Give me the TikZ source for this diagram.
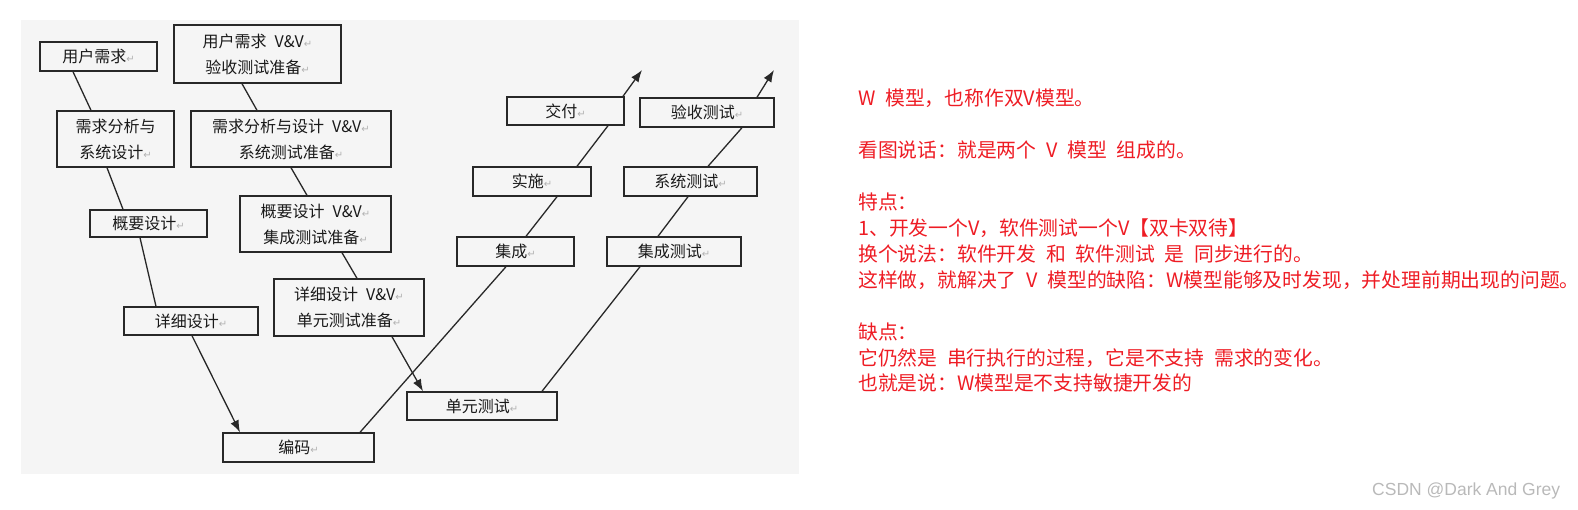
\documentclass[tikz,border=0pt]{standalone}
\usepackage{fontspec}
\setmainfont{Noto Sans CJK SC}[WordSpace=2.2]
\newfontfamily\symfont{DejaVu Sans}
\newfontfamily\wmfont{Liberation Sans}
\usepackage{tikz}
\usetikzlibrary{arrows.meta}
\definecolor{panelgray}{RGB}{245,245,245}
\definecolor{linegray}{RGB}{40,40,40}
\definecolor{notered}{RGB}{238,28,36}
% 段落标记
\newcommand{\retmark}{{\symfont\color{gray!60}\fontsize{10}{10}\selectfont ↵}}
\tikzset{
    % 阶段方框
    stagebox/.style={
        draw=linegray,
        line width=1.4pt,
        fill=panelgray,
        inner sep=0pt,
        align=center,
        text=black!90,
        font=\fontsize{16}{26}\selectfont
    },
    % 连线与箭头
    vline/.style={
        line width=1.3pt,
        linegray
    },
    varrow/.style={
        vline,
        -{Latex[length=12pt, width=9pt]}
    },
    % 右侧红字
    notetext/.style={
        anchor=west,
        inner sep=0pt,
        notered,
        font=\fontsize{19.8}{20}\selectfont
    }
}

\begin{document}
\begin{tikzpicture}[x=1pt, y=-1pt]
    \useasboundingbox (0,0) rectangle (1578,509);
    % ===================== 左侧 W 模型图 =====================
    \fill[panelgray] (21,20) rectangle (799,474);

    % 开发过程
    \node[stagebox, minimum width=117pt, minimum height=29pt] (ur) at (98.5,56.5) {用户需求\retmark};
    \node[stagebox, minimum width=117pt, minimum height=56pt] (xq) at (115.5,139) {需求分析与\\系统设计\retmark};
    \node[stagebox, minimum width=117pt, minimum height=27pt] (gy) at (148.5,223.5) {概要设计\retmark};
    \node[stagebox, minimum width=134pt, minimum height=28pt] (xx) at (191,321) {详细设计\retmark};
    \node[stagebox, minimum width=151pt, minimum height=29pt] (bm) at (298.5,447.5) {编码\retmark};
    \node[stagebox, minimum width=117pt, minimum height=29pt] (jc) at (515.5,251.5) {集成\retmark};
    \node[stagebox, minimum width=118pt, minimum height=29pt] (ss) at (532,181.5) {实施\retmark};
    \node[stagebox, minimum width=117pt, minimum height=28pt] (jf) at (565.5,111) {交付\retmark};

    % 测试过程
    \node[stagebox, minimum width=167pt, minimum height=58pt] (urvv) at (257.5,54) {用户需求 V\&V\retmark\\验收测试准备\retmark};
    \node[stagebox, minimum width=200pt, minimum height=56pt] (xqvv) at (291,139) {需求分析与设计 V\&V\retmark\\系统测试准备\retmark};
    \node[stagebox, minimum width=151pt, minimum height=56pt] (gyvv) at (315.5,224) {概要设计 V\&V\retmark\\集成测试准备\retmark};
    \node[stagebox, minimum width=150pt, minimum height=57pt] (xxvv) at (349,307.5) {详细设计 V\&V\retmark\\单元测试准备\retmark};
    \node[stagebox, minimum width=150pt, minimum height=28pt] (dy) at (482,406) {单元测试\retmark};
    \node[stagebox, minimum width=134pt, minimum height=29pt] (jcs) at (674,251.5) {集成测试\retmark};
    \node[stagebox, minimum width=133pt, minimum height=29pt] (xts) at (690.5,181.5) {系统测试\retmark};
    \node[stagebox, minimum width=134pt, minimum height=29pt] (yss) at (707,112.5) {验收测试\retmark};

    \coordinate (top1) at (642,70);
    \coordinate (top2) at (774,70);

    % 开发 V（下行）
    \draw[vline] ([xshift=-25.5pt]ur.south) -- ([xshift=-24.5pt]xq.north);
    \draw[vline] ([xshift=-8.5pt]xq.south) -- ([xshift=-25.5pt]gy.north);
    \draw[vline] ([xshift=-8.5pt]gy.south) -- ([xshift=-35pt]xx.north);
    \draw[varrow] ([xshift=1pt]xx.south) -- ([xshift=-58.5pt]bm.north);
    % 开发 V（上行）
    \draw[vline] ([xshift=61.5pt]bm.north) -- ([xshift=-9.5pt]jc.south);
    \draw[vline] ([xshift=10.5pt]jc.north) -- ([xshift=25pt]ss.south);
    \draw[vline] ([xshift=45pt]ss.north) -- ([xshift=42.5pt]jf.south);
    \draw[varrow] ([xshift=57.5pt]jf.north) -- (top1);
    % 测试 V（下行）
    \draw[vline] ([xshift=-15.5pt]urvv.south) -- ([xshift=-34pt]xqvv.north);
    \draw[vline] (xqvv.south) -- ([xshift=-8.5pt]gyvv.north);
    \draw[vline] ([xshift=26.5pt]gyvv.south) -- ([xshift=8pt]xxvv.north);
    \draw[varrow] ([xshift=43pt]xxvv.south) -- ([xshift=-59pt]dy.north);
    % 测试 V（上行）
    \draw[vline] ([xshift=60pt]dy.north) -- ([xshift=-34pt]jcs.south);
    \draw[vline] ([xshift=-16pt]jcs.north) -- ([xshift=-2.5pt]xts.south);
    \draw[vline] ([xshift=17.5pt]xts.north) -- ([xshift=35pt]yss.south);
    \draw[varrow] ([xshift=50pt]yss.north) -- (top2);

    % ===================== 右侧说明文字 =====================
    \node[notetext] (t1) at (858,98) {W 模型，也称作双V模型。};
    \node[notetext] (t2) at (858,150) {看图说话：就是两个 V 模型 组成的。};
    \node[notetext] (t3) at (858,202) {特点：};
    \node[notetext] (t4) at (858,228) {1、开发一个V，软件测试一个V【双卡双待】};
    \node[notetext] (t5) at (858,254) {换个说法：软件开发 和 软件测试 是 同步进行的。};
    \node[notetext] (t6) at (858,280) {这样做，就解决了 V 模型的缺陷：W模型能够及时发现，并处理前期出现的问题。};
    \node[notetext] (t7) at (858,332) {缺点：};
    \node[notetext] (t8) at (858,358) {它仍然是 串行执行的过程，它是不支持 需求的变化。};
    \node[notetext] (t9) at (858,383) {也就是说：W模型是不支持敏捷开发的};

    % 水印
    \node[anchor=west, inner sep=0pt, text=gray!55, font=\wmfont\fontsize{17.5}{17.5}\selectfont] (wm) at (1372,491) {CSDN @Dark And Grey};
\end{tikzpicture}
\end{document}
